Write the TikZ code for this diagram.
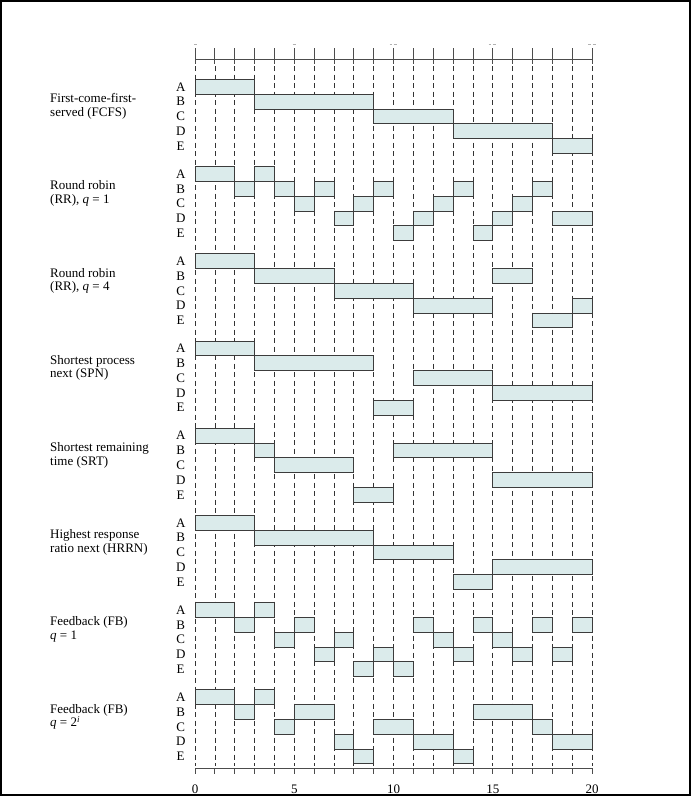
\documentclass[tikz,border=0pt]{standalone}
\usepackage{fontspec}
\setmainfont{Liberation Serif}
\definecolor{barfill}{RGB}{219,235,235}
\definecolor{barline}{RGB}{60,60,60}
\newcommand\gbar[4]{\draw[barbox] ({195+(#3)*19.85},{79.3+(#1)*87.2+(#2)*14.8}) rectangle ({195+(#4)*19.85},{79.3+(#1)*87.2+(#2)*14.8+14.8});}
\begin{document}
\begin{tikzpicture}[x=1pt,y=-1pt,
  every node/.style={font=\fontsize{13}{14}\selectfont, inner sep=0pt},
  gridline/.style={dash pattern=on 5pt off 3.5pt, line width=0.7pt, black!80},
  axisline/.style={line width=0.8pt, black!70},
  barbox/.style={fill=barfill, draw=barline, line width=0.8pt},
  rowlabel/.style={anchor=base},
  methodlabel/.style={anchor=base west},
  ghost/.style={line width=0.8pt, black!30}
]
\useasboundingbox (0,0) rectangle (691,796);
% grid and axes
\foreach \i in {0,...,20} {
  \draw[gridline] ({195+\i*19.85},66) -- ({195+\i*19.85},766);
  \draw[axisline] ({195+\i*19.85},48) -- ({195+\i*19.85},64);
  \draw[axisline] ({195+\i*19.85},768) -- ({195+\i*19.85},773.5);
}
\draw[axisline] (195,59) -- (592,59);
\draw[axisline] (195,768) -- (592,768);
% faint remnants of top tick labels
\draw[ghost] (194,44) -- (196.5,44);
\draw[ghost] (292.5,44) -- (295.5,44);
\draw[ghost] (389.5,44) -- (391.5,44) (393.5,44) -- (396.5,44);
\draw[ghost] (488.5,44) -- (490.5,44) (492.5,44) -- (495.5,44);
\draw[ghost] (588,44) -- (590.5,44) (592.5,44) -- (596,44);
% bottom tick labels
\foreach \t in {0,5,10,15,20}
  \node[anchor=base] (tick-\t) at ({195+\t*19.85},793) {\t};
% row labels
\foreach \k in {0,...,7}
  \foreach \L [count=\r from 0] in {A,B,C,D,E}
    \node[rowlabel] (row-\k-\L) at (180.7,{79.3+\k*87.2+\r*14.8+11.8}) {\L};
% method labels
\foreach \k/\la/\lb in {
  0/{First-come-first-}/{served (FCFS)},
  1/{Round robin}/{(RR), \textit{q} = 1},
  2/{Round robin}/{(RR), \textit{q} = 4},
  3/{Shortest process}/{next (SPN)},
  4/{Shortest remaining}/{time (SRT)},
  5/{Highest response}/{ratio next (HRRN)},
  6/{Feedback (FB)}/{\textit{q} = 1},
  7/{Feedback (FB)}/{\textit{q} = 2\textsuperscript{\textit{i}}}} {
  \node[methodlabel] (method-\k-a) at (50,{79.3+\k*87.2+23.3}) {\la};
  \node[methodlabel] (method-\k-b) at (50,{79.3+\k*87.2+37.0}) {\lb};
}
% FCFS
\gbar{0}{0}{0}{3} \gbar{0}{1}{3}{9} \gbar{0}{2}{9}{13} \gbar{0}{3}{13}{18} \gbar{0}{4}{18}{20}
% RR q=1
\gbar{1}{0}{0}{2} \gbar{1}{0}{3}{4}
\gbar{1}{1}{2}{3} \gbar{1}{1}{4}{5} \gbar{1}{1}{6}{7} \gbar{1}{1}{9}{10} \gbar{1}{1}{13}{14} \gbar{1}{1}{17}{18}
\gbar{1}{2}{5}{6} \gbar{1}{2}{8}{9} \gbar{1}{2}{12}{13} \gbar{1}{2}{16}{17}
\gbar{1}{3}{7}{8} \gbar{1}{3}{11}{12} \gbar{1}{3}{15}{16} \gbar{1}{3}{18}{20}
\gbar{1}{4}{10}{11} \gbar{1}{4}{14}{15}
% RR q=4
\gbar{2}{0}{0}{3} \gbar{2}{1}{3}{7} \gbar{2}{1}{15}{17} \gbar{2}{2}{7}{11}
\gbar{2}{3}{11}{15} \gbar{2}{3}{19}{20} \gbar{2}{4}{17}{19}
% SPN
\gbar{3}{0}{0}{3} \gbar{3}{1}{3}{9} \gbar{3}{2}{11}{15} \gbar{3}{3}{15}{20} \gbar{3}{4}{9}{11}
% SRT
\gbar{4}{0}{0}{3} \gbar{4}{1}{3}{4} \gbar{4}{1}{10}{15} \gbar{4}{2}{4}{8} \gbar{4}{3}{15}{20} \gbar{4}{4}{8}{10}
% HRRN
\gbar{5}{0}{0}{3} \gbar{5}{1}{3}{9} \gbar{5}{2}{9}{13} \gbar{5}{3}{15}{20} \gbar{5}{4}{13}{15}
% FB q=1
\gbar{6}{0}{0}{2} \gbar{6}{0}{3}{4}
\gbar{6}{1}{2}{3} \gbar{6}{1}{5}{6} \gbar{6}{1}{11}{12} \gbar{6}{1}{14}{15} \gbar{6}{1}{17}{18} \gbar{6}{1}{19}{20}
\gbar{6}{2}{4}{5} \gbar{6}{2}{7}{8} \gbar{6}{2}{12}{13} \gbar{6}{2}{15}{16}
\gbar{6}{3}{6}{7} \gbar{6}{3}{9}{10} \gbar{6}{3}{13}{14} \gbar{6}{3}{16}{17} \gbar{6}{3}{18}{19}
\gbar{6}{4}{8}{9} \gbar{6}{4}{10}{11}
% FB q=2^i
\gbar{7}{0}{0}{2} \gbar{7}{0}{3}{4}
\gbar{7}{1}{2}{3} \gbar{7}{1}{5}{7} \gbar{7}{1}{14}{17}
\gbar{7}{2}{4}{5} \gbar{7}{2}{9}{11} \gbar{7}{2}{17}{18}
\gbar{7}{3}{7}{8} \gbar{7}{3}{11}{13} \gbar{7}{3}{18}{20}
\gbar{7}{4}{8}{9} \gbar{7}{4}{13}{14}
% frame
\draw[line width=2.4pt, black] (1.2,1.2) rectangle (689.8,794.8);
\end{tikzpicture}
\end{document}
